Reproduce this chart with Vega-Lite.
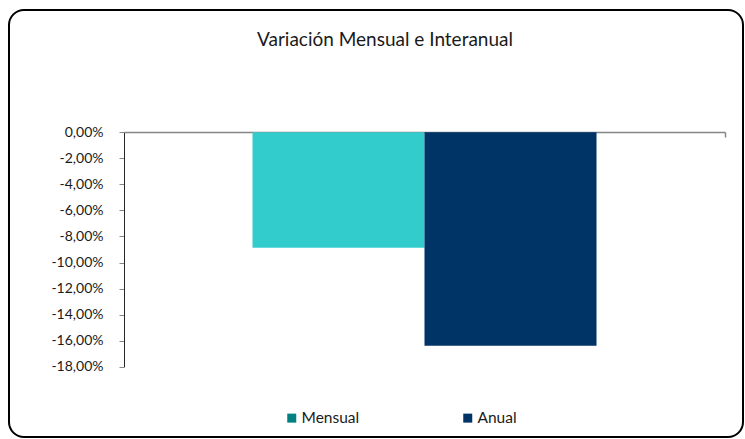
{
  "$schema": "https://vega.github.io/schema/vega-lite/v6.json",
  "autosize": "none",
  "width": 734,
  "height": 427,
  "padding": {"left": 9, "top": 10, "right": 2, "bottom": 2},
  "background": "white",
  "data": {"values": [
    {"grupo": "Variación", "serie": "Mensual", "valor": -0.0886},
    {"grupo": "Variación", "serie": "Anual", "valor": -0.1639}
  ]},
  "title": {
    "text": "Variación Mensual e Interanual",
    "anchor": "middle",
    "frame": "group",
    "offset": 0,
    "baseline": "alphabetic",
    "dy": 55,
    "dx": 9,
    "font": "Lato",
    "fontSize": 19,
    "fontWeight": "normal",
    "color": "#1a1a1a"
  },
  "encoding": {
    "x": {
      "field": "grupo",
      "type": "nominal",
      "scale": {"range": [115, 716], "paddingInner": 0, "paddingOuter": 0},
      "axis": {
        "orient": "top",
        "offset": -122,
        "title": null,
        "labels": false,
        "ticks": true,
        "bandPosition": 1,
        "tickSize": -5,
        "tickColor": "#868686",
        "tickWidth": 1.5,
        "domainColor": "#868686",
        "domainWidth": 1.5
      }
    },
    "xOffset": {
      "field": "serie",
      "type": "nominal",
      "sort": ["Mensual", "Anual"],
      "scale": {"paddingInner": 0, "paddingOuter": 0.747}
    },
    "y": {
      "field": "valor",
      "type": "quantitative",
      "scale": {"domain": [-0.18, 0], "range": [356.7, 122.3], "nice": false, "zero": false},
      "axis": {
        "orient": "left",
        "offset": -115,
        "title": null,
        "values": [0, -0.02, -0.04, -0.06, -0.08, -0.1, -0.12, -0.14, -0.16, -0.18],
        "format": ".2%",
        "grid": false,
        "tickSize": 5,
        "tickColor": "#868686",
        "domainColor": "#262626",
        "domainWidth": 1,
        "labelPadding": 16,
        "labelFont": "Lato",
        "labelFontSize": 14,
        "labelColor": "#1a1a1a"
      }
    }
  },
  "layer": [
    {
      "mark": {"type": "bar", "strokeWidth": 0},
      "encoding": {
        "color": {
          "field": "serie",
          "type": "nominal",
          "scale": {"domain": ["Mensual", "Anual"], "range": ["#33CCCC", "#003366"]},
          "legend": null
        }
      }
    },
    {
      "mark": {"type": "bar", "strokeWidth": 0, "opacity": 0},
      "encoding": {
        "color": {
          "field": "serie",
          "type": "nominal",
          "scale": {"domain": ["Mensual", "Anual"], "range": ["#008080", "#003366"]},
          "legend": {
            "title": null,
            "orient": "none",
            "direction": "horizontal",
            "legendX": 275,
            "legendY": 400,
            "padding": 0,
            "symbolType": "square",
            "symbolSize": 81,
            "symbolStrokeWidth": 0,
            "symbolOpacity": 1,
            "labelFont": "Lato",
            "labelFontSize": 15.5,
            "labelColor": "#1a1a1a",
            "labelOffset": 2,
            "columnPadding": 100
          }
        }
      }
    }
  ],
  "resolve": {"scale": {"color": "independent"}},
  "config": {
    "locale": {
      "number": {"decimal": ",", "thousands": ".", "grouping": [3], "currency": ["", " €"], "minus": "-"}
    },
    "view": {"stroke": "#000000", "strokeWidth": 2, "cornerRadius": 15, "fill": "white"}
  }
}
